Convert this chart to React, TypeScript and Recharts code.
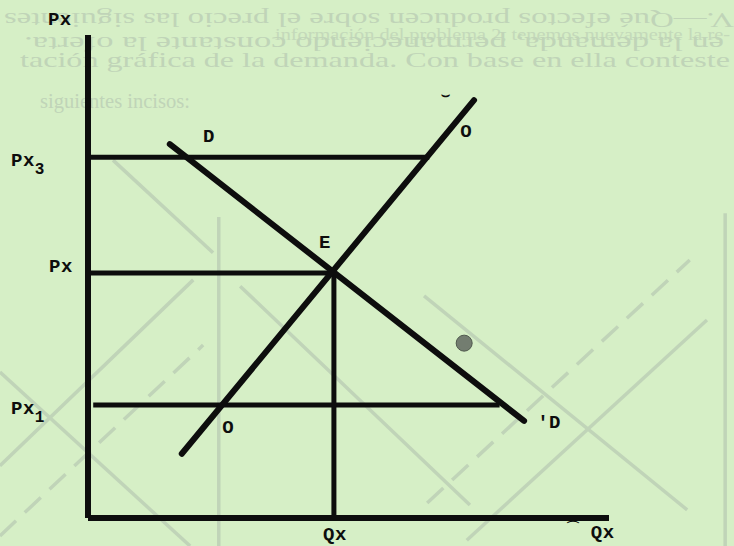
import React from 'react';
import { ComposedChart, Line, XAxis, YAxis, ReferenceDot, ReferenceLine } from 'recharts';

// ---- data (quantity q on x, price p on y) ----
const demandQ = [1.57, 8.37];
const demandP = [7.74, 2.01];
const supplyQ = [1.8, 7.41];
const supplyP = [1.33, 8.65];

const priceValues = [2.34, 5.07, 7.47];
const priceNames = ['Px', 'Px', 'Px'];
const priceSubs = ['1', '', '3'];
const guideStartQ = [0.1, 0, 0];
const guideEndQ = [7.9, 4.72, 6.55];

const eqQ = 4.72;
const eqP = 5.07;
const qtyTickValues = [4.72];
const qtyTickLabels = ['Qx'];

const labelTexts = ['Px', 'D', 'O', 'E', 'O', "'D", 'Qx'];
const labelQ = [-0.54, 2.32, 7.26, 4.55, 2.69, 8.85, 9.88];
const labelP = [10.21, 7.78, 7.89, 5.59, 1.76, 1.86, -0.42];

// scan marks
const markTexts = ['\u2323', '\u2312'];
const markQ = [6.86, 9.3];
const markP = [8.66, -0.3];
const blobQ = 7.22;
const blobP = 3.62;

// faint bleed-through strokes from the other side of the page
const ghostFrom = [
  [6.45, 4.6], [7.27, -0.46], [6.51, 0.31], [12.23, 6.31], [-1.69, 3.02],
  [-1.69, 1.08], [-1.69, -0.37], [2.51, 6.23], [0.48, 7.41], [2.92, 4.8],
];
const ghostTo = [
  [11.5, 0.17], [11.88, 4.1], [11.55, 5.34], [12.23, -0.58], [1.96, -0.58],
  [2.02, 4.93], [2.21, 3.58], [2.51, -0.58], [2.4, 5.49], [7.33, 0.27],
];
const ghostDashed = [false, false, true, false, false, false, true, false, false, false];

const ghostLines = [
  'V.\u2014Qu\u00e9 efectos producen sobre el precio las siguientes',
  'informaci\u00f3n del problema 2, tenemos nuevamente la re-',
  'en la demanda, permaneciendo constante la oferta.',
  'taci\u00f3n gr\u00e1fica de la demanda. Con base en ella conteste',
  'siguientes incisos:',
];

const pts = (qs: number[], ps: number[]) => qs.map((q, i) => ({ q, p: ps[i] }));
const demandData = pts(demandQ, demandP);
const supplyData = pts(supplyQ, supplyP);
const guideData = priceValues.map((p, i) => [
  { q: guideStartQ[i], p },
  { q: guideEndQ[i], p },
]);
const qxData = [
  { q: eqQ, p: 0 },
  { q: eqQ, p: eqP },
];

const BG = '#d6efc6';
const INK = '#0d0d0d';
const GHOST = '#c0d4b8';

const labelStyle: React.CSSProperties = {
  fontFamily: "'Liberation Mono', 'DejaVu Sans Mono', monospace",
  fontWeight: 700,
  fontSize: 19,
  fill: INK,
  letterSpacing: 0.5,
};

const PriceTick = (props: any) => {
  const { y, payload } = props;
  const i = priceValues.indexOf(payload.value);
  if (i < 0) return null;
  const sub = priceSubs[i];
  if (sub) {
    return (
      <text x={11} y={y + 9} style={labelStyle}>
        {priceNames[i]}
        <tspan dy={8} fontSize={16}>
          {sub}
        </tspan>
      </text>
    );
  }
  return (
    <text x={49} y={y - 1} style={labelStyle}>
      {priceNames[i]}
    </text>
  );
};

const QtyTick = (props: any) => {
  const { x, payload } = props;
  const i = qtyTickValues.indexOf(payload.value);
  if (i < 0) return null;
  return (
    <text x={x + 1} y={540} textAnchor="middle" style={labelStyle}>
      {qtyTickLabels[i]}
    </text>
  );
};

const ghostTextStyle: React.CSSProperties = {
  fontFamily: "'Liberation Serif', 'DejaVu Serif', serif",
  fontSize: 22,
  fill: GHOST,
};

export default function App() {
  return (
    <div
      style={{
        position: 'absolute',
        left: 0,
        top: 0,
        width: 734,
        height: 546,
        background: BG,
        overflow: 'hidden',
      }}
    >
      <svg width={734} height={546} style={{ position: 'absolute', left: 0, top: 0 }}>
        <text x={0} y={27} textLength={730} lengthAdjust="spacingAndGlyphs" style={ghostTextStyle} transform="rotate(180 367 20)">
          {ghostLines[0]}
        </text>
        <text x={275} y={40} textLength={455} lengthAdjust="spacingAndGlyphs" style={{ ...ghostTextStyle, fontSize: 16, opacity: 0.8 }}>
          {ghostLines[1]}
        </text>
        <text x={10} y={49} textLength={700} lengthAdjust="spacingAndGlyphs" style={ghostTextStyle} transform="rotate(180 367 43)">
          {ghostLines[2]}
        </text>
        <text x={20} y={67} textLength={710} lengthAdjust="spacingAndGlyphs" style={ghostTextStyle}>
          {ghostLines[3]}
        </text>
        <text x={40} y={108} textLength={150} lengthAdjust="spacingAndGlyphs" style={ghostTextStyle}>
          {ghostLines[4]}
        </text>
      </svg>
      <div style={{ position: 'absolute', left: 0, top: 0 }}>
        <ComposedChart width={734} height={546} margin={{ top: 35, right: 125, bottom: 0, left: 48 }}>
          <XAxis
            type="number"
            dataKey="q"
            domain={[0, 10]}
            height={28}
            ticks={qtyTickValues}
            interval={0}
            tick={<QtyTick />}
            tickLine={false}
            axisLine={{ stroke: INK, strokeWidth: 6 }}
          />
          <YAxis
            type="number"
            dataKey="p"
            domain={[0, 10]}
            width={40}
            ticks={priceValues}
            interval={0}
            tick={<PriceTick />}
            tickLine={false}
            axisLine={{ stroke: INK, strokeWidth: 6 }}
          />
          {ghostFrom.map((f, i) => (
            <ReferenceLine
              key={'g' + i}
              segment={[
                { x: f[0], y: f[1] },
                { x: ghostTo[i][0], y: ghostTo[i][1] },
              ]}
              ifOverflow="visible"
              stroke={GHOST}
              strokeWidth={3.5}
              strokeDasharray={ghostDashed[i] ? '22 12' : undefined}
            />
          ))}
          {guideData.map((d, i) => (
            <Line
              key={'h' + i}
              data={d}
              dataKey="p"
              type="linear"
              stroke={INK}
              strokeWidth={5}
              dot={false}
              activeDot={false}
              isAnimationActive={false}
            />
          ))}
          <Line data={qxData} dataKey="p" type="linear" stroke={INK} strokeWidth={5} dot={false} activeDot={false} isAnimationActive={false} />
          <Line data={demandData} dataKey="p" type="linear" stroke={INK} strokeWidth={6} strokeLinecap="round" dot={false} activeDot={false} isAnimationActive={false} />
          <Line data={supplyData} dataKey="p" type="linear" stroke={INK} strokeWidth={6} strokeLinecap="round" dot={false} activeDot={false} isAnimationActive={false} />
          <ReferenceDot x={blobQ} y={blobP} r={8} ifOverflow="visible" fill="#737d70" stroke="#4f584d" strokeWidth={1} />
          {labelTexts.map((t, i) => (
            <ReferenceDot
              key={'l' + i}
              x={labelQ[i]}
              y={labelP[i]}
              r={1}
              ifOverflow="visible"
              shape={(p: any) => (
                <text x={p.cx} y={p.cy} textAnchor="middle" style={labelStyle}>
                  {t}
                </text>
              )}
            />
          ))}
          {markTexts.map((t, i) => (
            <ReferenceDot
              key={'m' + i}
              x={markQ[i]}
              y={markP[i]}
              r={1}
              ifOverflow="visible"
              shape={(p: any) => (
                <text x={p.cx} y={p.cy} textAnchor="middle" style={{ fontFamily: "'DejaVu Sans', sans-serif", fontSize: 14, fontWeight: 700, fill: INK }}>
                  {t}
                </text>
              )}
            />
          ))}
        </ComposedChart>
      </div>
    </div>
  );
}
